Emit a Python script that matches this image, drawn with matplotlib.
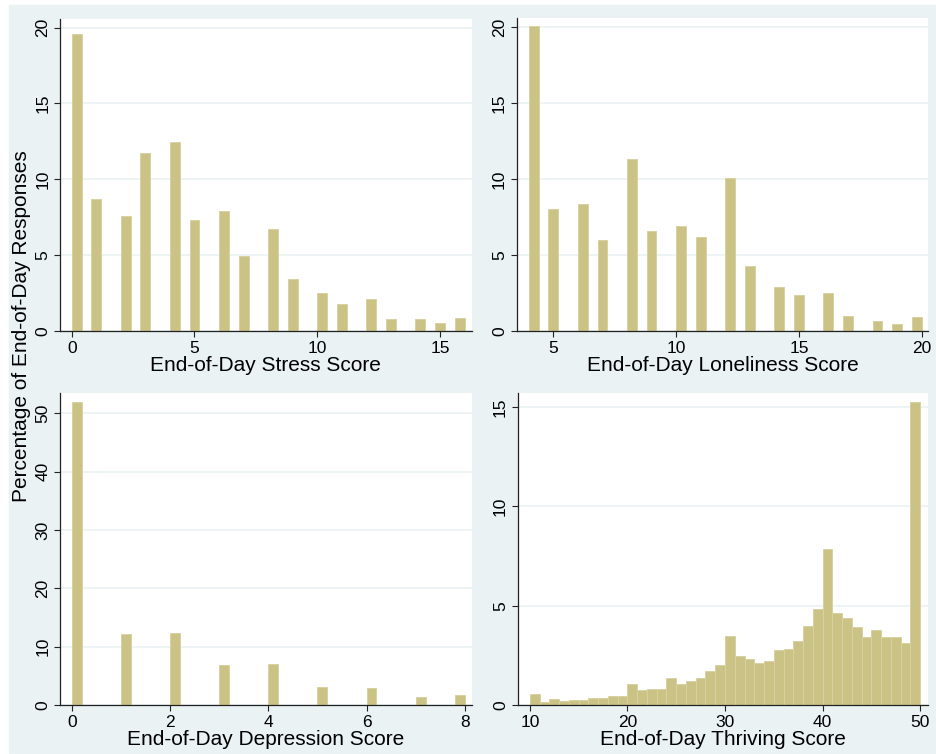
import matplotlib
matplotlib.use("Agg")
import matplotlib.pyplot as plt
import numpy as np
from matplotlib.patches import Rectangle

plt.rcParams['font.family'] = ['Liberation Sans', 'DejaVu Sans']

# percent of end-of-day responses at each score
stress_scores = list(range(0, 17))
stress_pct = [19.58, 8.70, 7.58, 11.74, 12.46, 7.32, 7.91, 4.95, 6.73,
              3.43, 2.51, 1.78, 2.11, 0.79, 0.79, 0.55, 0.86]

lonely_scores = list(range(4, 21))
lonely_pct = [20.09, 8.04, 8.34, 6.02, 11.33, 6.61, 6.92, 6.17, 10.08,
              4.28, 2.92, 2.37, 2.50, 1.01, 0.68, 0.44, 0.92]

depress_scores = list(range(0, 9))
depress_pct = [51.94, 12.17, 12.34, 6.86, 7.03, 3.09, 2.91, 1.37, 1.71]

# thriving: 40 unit-wide bins from 10 to 50 (last bin holds 49 and 50)
thrive_bins = list(range(10, 50))
thrive_pct = [0.55, 0.13, 0.30, 0.20, 0.25, 0.25, 0.34, 0.34, 0.45, 0.45,
              1.06, 0.74, 0.81, 0.81, 1.36, 1.06, 1.21, 1.36, 1.71, 2.02,
              3.48, 2.47, 2.32, 2.12, 2.22, 2.77, 2.82, 3.23, 3.98, 4.84,
              7.86, 4.64, 4.38, 3.93, 3.43, 3.78, 3.43, 3.43, 3.12, 15.27]

BAR = '#cbc385'
EDGE = '#d8d2a2'
BG = '#eaf2f3'
W, H = 936, 754


def bin_edges(scores, lo, hi, n=40):
    # stata-style histogram: n equal bins from min to max
    w = (hi - lo) / n
    lefts = []
    for v in scores:
        k = min(int(np.floor((v - lo) / w + 1e-9)), n - 1)
        lefts.append(lo + k * w)
    return lefts, w


def panel(rect_px, lefts, width, heights, xlim, ylim, xticks, yticks, xlabel):
    l, r, t, b = rect_px
    ax = fig.add_axes([l / W, 1 - b / H, (r - l) / W, (b - t) / H])
    ax.set_facecolor('white')
    ax.bar(lefts, heights, width=width, align='edge', color=BAR,
           edgecolor=EDGE, linewidth=0.7, zorder=2)
    ax.set_xlim(*xlim)
    ax.set_ylim(*ylim)
    ax.set_xticks(xticks)
    ax.set_yticks(yticks)
    ax.set_yticklabels([str(y) for y in yticks], rotation=90, va='center')
    ax.yaxis.grid(True, color=BG, linewidth=1.2, zorder=0)
    ax.set_axisbelow(True)
    for s in ['top', 'right']:
        ax.spines[s].set_visible(False)
    for s in ['left', 'bottom']:
        ax.spines[s].set_color('#222222')
        ax.spines[s].set_linewidth(0.9)
    ax.tick_params(axis='both', length=4, width=0.8, color='#222222',
                   labelsize=12.5, pad=3)
    ax.set_xlabel(xlabel, fontsize=15, labelpad=0)
    return ax


fig = plt.figure(figsize=(W / 100, H / 100), dpi=100)
fig.patch.set_facecolor('white')
fig.patches.append(Rectangle((9 / W, 1 - 753 / H), 1 - 9 / W, 748 / H,
                             transform=fig.transFigure, color=BG, zorder=-1))

lefts, w = bin_edges(stress_scores, 0, 16)
panel((60, 471.7, 19, 331), lefts, w, stress_pct, (-0.477, 16.29), (0, 20.57),
      [0, 5, 10, 15], [0, 5, 10, 15, 20], 'End-of-Day Stress Score')

lefts, w = bin_edges(lonely_scores, 4, 20)
panel((516.7, 928.3, 18.3, 331), lefts, w, lonely_pct, (3.507, 20.27), (0, 20.59),
      [5, 10, 15, 20], [0, 5, 10, 15, 20], 'End-of-Day Loneliness Score')

lefts, w = bin_edges(depress_scores, 0, 8)
panel((60, 471.7, 393.3, 705), lefts, w, depress_pct, (-0.238, 8.137), (0, 53.4),
      [0, 2, 4, 6, 8], [0, 10, 20, 30, 40, 50], 'End-of-Day Depression Score')

panel((517.7, 928.3, 393.3, 705), thrive_bins, 1.0, thrive_pct, (8.74, 50.85), (0, 15.7),
      [10, 20, 30, 40, 50], [0, 5, 10, 15], 'End-of-Day Thriving Score')

fig.text(22 / W, 1 - 326 / H, 'Percentage of End-of-Day Responses', rotation=90,
         ha='center', va='center', fontsize=15)

fig.savefig('out.png', dpi=100, facecolor=fig.get_facecolor())
